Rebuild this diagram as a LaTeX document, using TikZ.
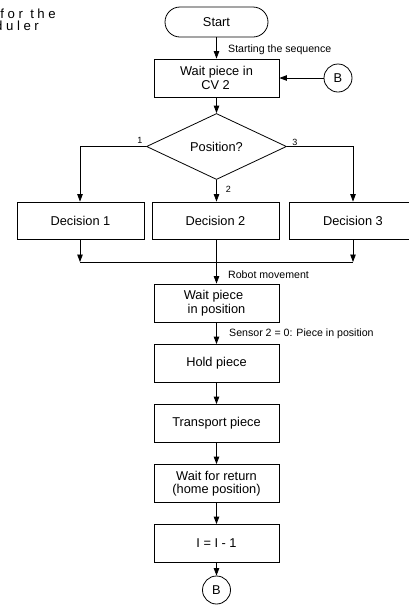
\documentclass[tikz,border=0pt]{standalone}
\usepackage{fontspec}
\setmainfont{Liberation Sans}
\newfontfamily\spacedfont[LetterSpace=27]{Liberation Sans}
\usetikzlibrary{shapes.geometric,arrows.meta}

\tikzset{
  flow/.style={line width=0.8pt, -{Triangle[length=7.5pt,width=5.5pt]}},
  plain/.style={line width=0.8pt},
  stepbox/.style={draw, line width=0.8pt, minimum width=125pt, minimum height=38pt,
    inner sep=0pt, align=center, font=\fontsize{12.8}{13.5}\selectfont},
  choicebox/.style={stepbox, minimum width=127pt, minimum height=37pt},
  terminal/.style={draw, line width=0.8pt, rounded corners=15pt, minimum width=103pt,
    minimum height=30pt, inner sep=0pt, font=\fontsize{12.8}{13.5}\selectfont},
  connector/.style={draw, circle, line width=0.8pt, minimum size=28pt, inner sep=0pt,
    font=\fontsize{12.8}{13.5}\selectfont},
  decision/.style={draw, diamond, line width=0.8pt, minimum width=140pt, minimum height=66pt,
    aspect=2.12, inner sep=0pt, font=\fontsize{12.8}{13.5}\selectfont},
  note/.style={anchor=west, inner sep=0pt, font=\fontsize{10.6}{12}\selectfont},
  branch/.style={inner sep=0pt, font=\fontsize{9}{10}\selectfont},
  heading/.style={anchor=base west, inner sep=0pt, font=\spacedfont\fontsize{13.2}{15}\selectfont},
}

\begin{document}
\begin{tikzpicture}[x=1pt, y=-1pt]
\clip (0,0) rectangle (409,606);

% heading, partly outside the frame
\node[heading] (headA) at (0.3,18) {for the};
\node[heading] (headB) at (-5,30.5) {duler};

% main column
\node[terminal] (start) at (216.5,22) {Start};
\node[stepbox] (w1) at (216.5,78) {Wait piece in\\CV 2\hspace*{2pt}};
\node[connector] (bA) at (338,78) {B};
\node[decision] (pos) at (216.5,146.5) {Position?};

\node[choicebox] (d1) at (80.5,220.5) {Decision 1};
\node[choicebox] (d2) at (215.5,220.5) {Decision 2};
\node[choicebox] (d3) at (353,220.5) {Decision 3};

\node[stepbox] (wp) at (216.5,303) {Wait piece\hspace*{6pt}\\in position};
\node[stepbox] (hold) at (216.5,363.5) {Hold piece};
\node[stepbox] (trans) at (216.5,423.5) {Transport piece};
\node[stepbox] (ret) at (216.5,483.5) {Wait for return\\(home position)};
\node[stepbox] (dec) at (216.5,543.5) {I = I - 1};
\node[connector] (bB) at (216.5,590) {B};

% junction points
\coordinate (lcorner) at (80,146.5);
\coordinate (rcorner) at (353,146.5);
\coordinate (jl) at (80,262);
\coordinate (jr) at (353,262);

% connectors
\draw[flow] (start) -- (w1);
\draw[flow] (bA) -- (w1);
\draw[flow] (w1) -- (pos);
\draw[flow] (pos.west) -- (lcorner) -- (d1.north -| lcorner);
\draw[flow] (pos.east) -- (rcorner) -- (d3.north -| rcorner);
\draw[flow] (pos.south) -- (d2.north -| pos.south);
\draw[flow] (d1.south -| jl) -- (jl);
\draw[flow] (d3.south -| jr) -- (jr);
\draw[plain] (jl) -- (jr);
\draw[flow] (d2.south -| wp.north) -- (wp.north);
\draw[flow] (wp) -- (hold);
\draw[flow] (hold) -- (trans);
\draw[flow] (trans) -- (ret);
\draw[flow] (ret) -- (dec);
\draw[flow] (dec) -- (bB);

% connector labels
\node[note] (lstart) at (228,50) {Starting the sequence};
\node[note] (lrobot) at (228,275) {Robot movement};
\node[note] (lsensor) at (229,334) {Sensor 2 = 0: Piece in position};
\node[branch] (n1) at (140,140) {1};
\node[branch] (n3) at (295,142) {3};
\node[branch] (n2) at (228.5,189) {2};
\end{tikzpicture}
\end{document}
